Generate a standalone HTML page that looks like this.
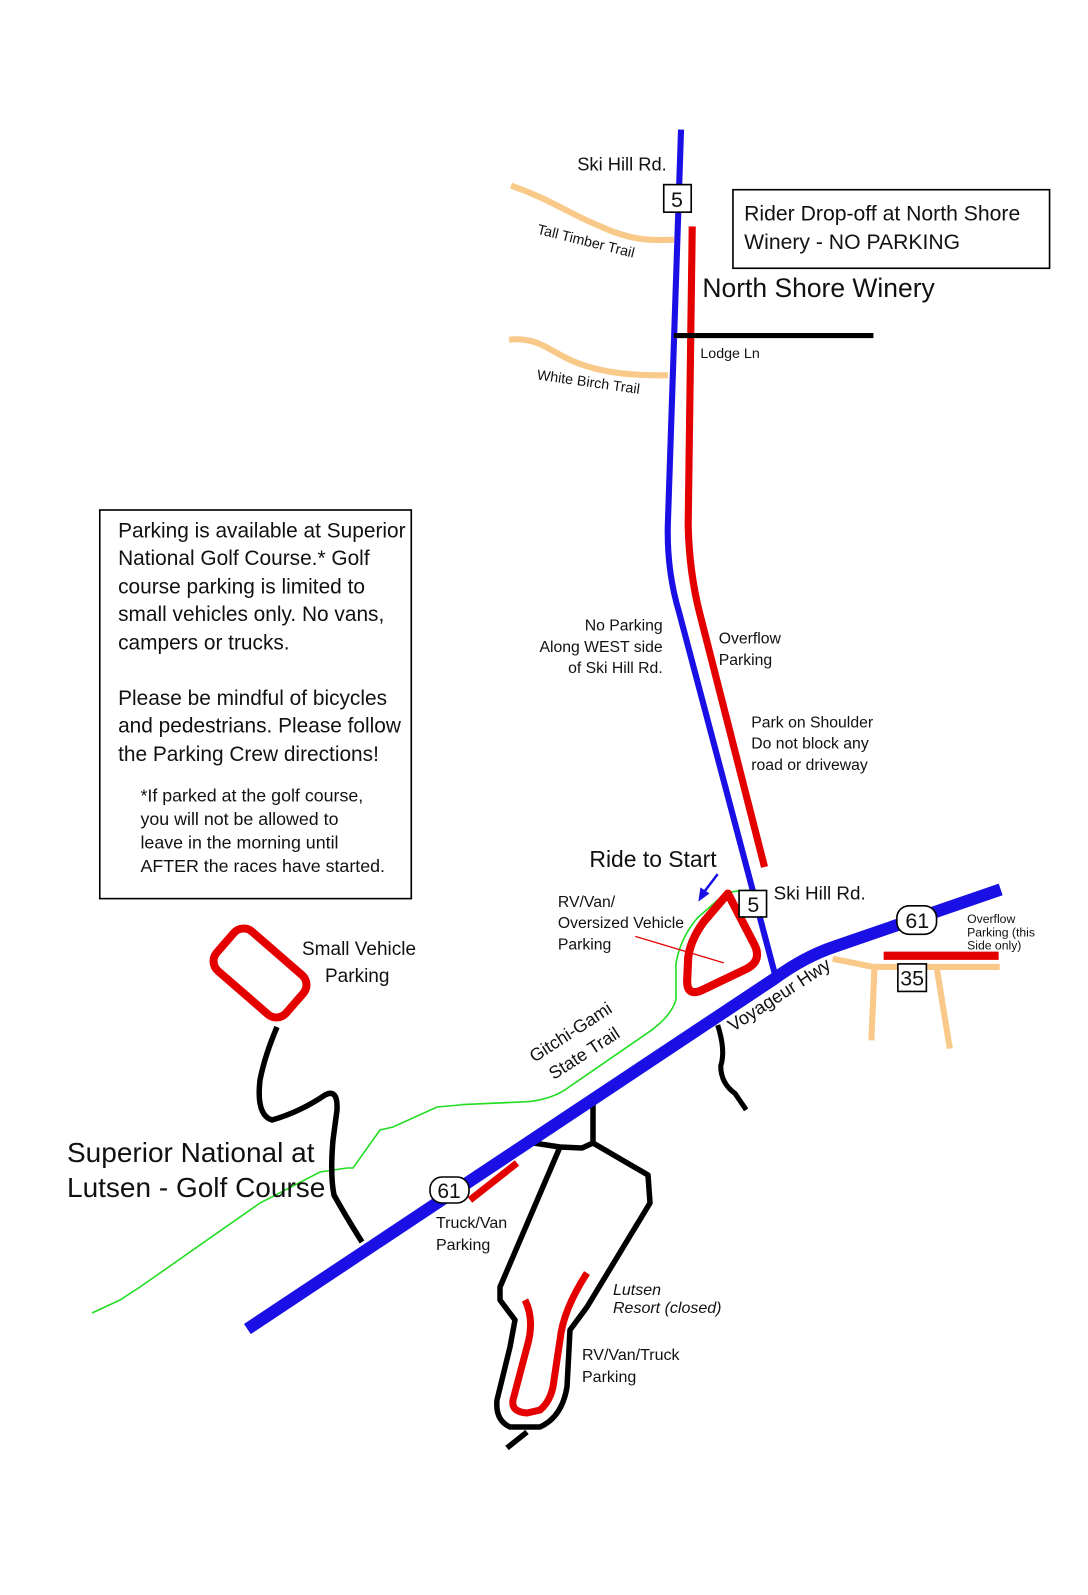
<!DOCTYPE html>
<html><head><meta charset="utf-8"><style>
html,body{margin:0;padding:0;background:#fff}
svg{display:block}
text{font-family:"Liberation Sans","DejaVu Sans",sans-serif;fill:#111}
</style></head><body>
<svg width="1088" height="1595" viewBox="0 0 1088 1595" xmlns="http://www.w3.org/2000/svg">
<path d="M460,1105 L437,1107 L393,1127 L380,1130 L353,1168 L347,1168 L320,1172 L260,1203 L140,1287 L120,1300 L92,1313" fill="none" stroke="#22dd22" stroke-width="1.6"/>
<path d="M277,1027 Q265,1055 260,1080 Q256,1115 272,1120 Q300,1112 325,1095 Q338,1088 337,1110 L333,1140 Q330,1175 334,1195 Q345,1215 362,1242" fill="none" stroke="#000" stroke-width="5.5"/>
<rect x="214" y="947" width="92" height="52" rx="13" transform="rotate(41 260 973)" fill="none" stroke="#e50000" stroke-width="8"/>
<g fill="none" stroke="#000" stroke-width="5.5" stroke-linejoin="round">
<path d="M593,1100 L593,1143"/>
<path d="M527,1142 L560,1147 L582,1148 L593,1143 L648,1175 L650,1203 L587,1307 L570,1330 L567,1387 Q562,1417 540,1427 L510,1427 Q495,1420 497,1400 L510,1347 L515,1320 L500,1300 L500,1287 L560,1147"/>
<path d="M507,1448 L527,1432"/>
</g>
<path d="M525,1300 Q535,1320 527,1347 L513,1400 Q511,1412 527,1413 L540,1410 Q552,1400 554,1380 L560,1340 Q563,1310 587,1273" fill="none" stroke="#e50000" stroke-width="7"/>
<line x1="470" y1="1200" x2="517" y2="1163" stroke="#e50000" stroke-width="7"/>
<text x="67" y="1162" font-size="28">Superior National at</text>
<text x="67" y="1197" font-size="28">Lutsen - Golf Course</text>
<text x="302" y="955" font-size="19">Small Vehicle</text>
<text x="325" y="982" font-size="19">Parking</text>
<g font-size="16">
<text x="436" y="1228">Truck/Van</text>
<text x="436" y="1250">Parking</text>
<text x="582" y="1360">RV/Van/Truck</text>
<text x="582" y="1382">Parking</text>
<text x="613" y="1295" font-style="italic">Lutsen</text>
<text x="613" y="1313" font-style="italic">Resort (closed)</text>
</g>

<g transform="scale(1.018 1.02)">
<g fill="none" stroke="#f9c98a" stroke-width="6">
<path d="M502,182 C540,195 560,210 590,222 C620,236 640,236 662,235"/>
<path d="M500,333 C530,330 540,345 565,355 C595,367 625,368 656,368"/>
<path d="M818,940 L858,948 L982,948"/>
<path d="M859,948 L856,1020"/>
<path d="M920,948 L933,1028"/>
</g>
<path d="M680,222 L676,515 Q677,560 687,600 L751,850" fill="none" stroke="#e50000" stroke-width="7"/>
<path d="M669,127 L656,515 Q655,560 667,600 L762,958" fill="none" stroke="#1a10e6" stroke-width="6"/>
<line x1="662" y1="329" x2="858" y2="329" stroke="#000" stroke-width="5"/>
<path d="M452,1083 L520,1080 Q545,1077 560,1065 L640,1010 Q660,995 664,980 L664,945 Q668,920 685,900 L710,878 Q718,873 735,873" fill="none" stroke="#22dd22" stroke-width="1.6"/>
<path d="M705,1005 Q713,1030 708,1045 Q708,1062 722,1072 L733,1088" fill="none" stroke="#000" stroke-width="5"/>
<path d="M243,1303 L760,960 Q790,938 820,928 L983,872" fill="none" stroke="#1a10e6" stroke-width="12"/>
<path d="M715,876 L741,926 Q749,942 733,950 L691,970 Q675,978 675,962 L676,939 Q678,922 691,904 Z" fill="none" stroke="#e50000" stroke-width="8" stroke-linejoin="round"/>
<line x1="624" y1="918" x2="711" y2="944" stroke="#e50000" stroke-width="1.2"/>
<line x1="868" y1="937" x2="981" y2="937" stroke="#e50000" stroke-width="8"/>
<line x1="705" y1="857" x2="692" y2="874" stroke="#1a10e6" stroke-width="2.5"/>
<polygon points="686,884 688,870 697,876" fill="#1a10e6"/>
<g fill="#fff" stroke="#000" stroke-width="1.6">
<rect x="652" y="181" width="27" height="27"/>
<rect x="726" y="873" width="27" height="26"/>
<rect x="882" y="945" width="28" height="27"/>
<rect x="881" y="888" width="39" height="28" rx="12"/>
</g>
<g font-size="21" text-anchor="middle">
<text x="665" y="203">5</text>
<text x="740" y="894">5</text>
<text x="896" y="966">35</text>
<text x="901" y="910">61</text>
</g>
<rect x="720" y="186" width="311" height="77" fill="none" stroke="#000" stroke-width="1.6"/>
<text x="731" y="216" font-size="20.8">Rider Drop-off at North Shore</text>
<text x="731" y="244" font-size="20.8">Winery - NO PARKING</text>
<rect x="98" y="500" width="306" height="381" fill="none" stroke="#000" stroke-width="1.6"/>
<g font-size="20.5">
<text x="116" y="527">Parking is available at Superior</text>
<text x="116" y="554">National Golf Course.* Golf</text>
<text x="116" y="582">course parking is limited to</text>
<text x="116" y="609">small vehicles only. No vans,</text>
<text x="116" y="637">campers or trucks.</text>
<text x="116" y="691">Please be mindful of bicycles</text>
<text x="116" y="718">and pedestrians. Please follow</text>
<text x="116" y="746">the Parking Crew directions!</text>
</g>
<g font-size="17.5">
<text x="138" y="786">*If parked at the golf course,</text>
<text x="138" y="809">you will not be allowed to</text>
<text x="138" y="832">leave in the morning until</text>
<text x="138" y="855">AFTER the races have started.</text>
</g>
<text x="567" y="167" font-size="18">Ski Hill Rd.</text>
<text x="690" y="291" font-size="26">North Shore Winery</text>
<text x="688" y="351" font-size="14">Lodge Ln</text>
<text x="527" y="229" font-size="14" transform="rotate(14 527 229)">Tall Timber Trail</text>
<text x="527" y="372" font-size="14" transform="rotate(8 527 372)">White Birch Trail</text>
<g font-size="15.5">
<text x="651" y="618" text-anchor="end">No Parking</text>
<text x="651" y="639" text-anchor="end">Along WEST side</text>
<text x="651" y="660" text-anchor="end">of Ski Hill Rd.</text>
<text x="706" y="631">Overflow</text>
<text x="706" y="652">Parking</text>
<text x="738" y="713">Park on Shoulder</text>
<text x="738" y="734">Do not block any</text>
<text x="738" y="755">road or driveway</text>
<text x="548" y="889">RV/Van/</text>
<text x="548" y="910">Oversized Vehicle</text>
<text x="548" y="931">Parking</text>
</g>
<text x="579" y="850" font-size="22.5">Ride to Start</text>
<text x="760" y="882" font-size="18.5">Ski Hill Rd.</text>
<text x="950" y="905" font-size="12">Overflow</text>
<text x="950" y="918" font-size="12">Parking (this</text>
<text x="950" y="931" font-size="12">Side only)</text>
<text x="720" y="1012" font-size="18" transform="rotate(-33 720 1012)">Voyageur Hwy</text>
<text x="525" y="1042" font-size="17.5" transform="rotate(-33 525 1042)">Gitchi-Gami</text>
<text x="544" y="1059" font-size="17.5" transform="rotate(-33 544 1059)">State Trail</text>
</g>
<rect x="430" y="1177" width="39" height="26" rx="12" fill="#fff" stroke="#000" stroke-width="1.6"/>
<text x="449" y="1198" font-size="21" text-anchor="middle">61</text>
</svg>
</body></html>
